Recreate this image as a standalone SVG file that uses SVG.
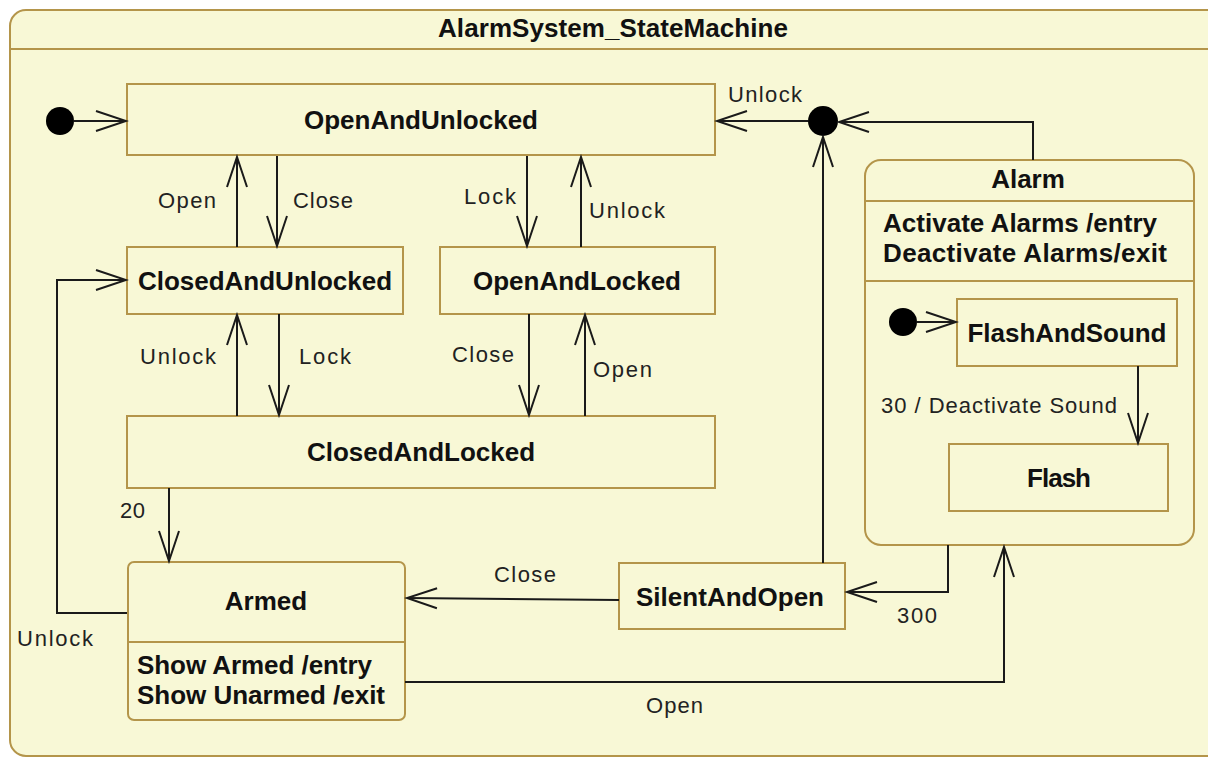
<svg xmlns="http://www.w3.org/2000/svg" width="1208" height="757" viewBox="0 0 1208 757">
<defs>
<style>
.box{fill:#F8F8D6;stroke:#B4954A;stroke-width:2}
.sep{stroke:#B4954A;stroke-width:2;fill:none}
.con{stroke:#1A1A1A;stroke-width:2;fill:none}
.dot{fill:#000}
.t{font-family:"Liberation Sans",Arial,sans-serif;font-weight:bold;font-size:26px;fill:#111}
.tc{text-anchor:middle}
.lb{font-family:"Liberation Sans",Arial,sans-serif;font-size:22px;fill:#222}
</style>
<marker id="arr" markerUnits="userSpaceOnUse" viewBox="-33 -13 36 26" refX="0" refY="0" markerWidth="36" markerHeight="26" orient="auto">
<path d="M-30,-10 L0,0 L-30,10" fill="none" stroke="#1A1A1A" stroke-width="2"/>
</marker>
</defs>
<rect x="0" y="0" width="1208" height="757" fill="#FFFFFF"/>
<g id="frame">
<rect class="box" x="10" y="10" width="1230" height="746" rx="16"/>
<line class="sep" x1="10" y1="49" x2="1208" y2="49"/>
<text class="t tc" x="613" y="37" textLength="350">AlarmSystem_StateMachine</text>
</g>
<g id="initial">
<circle class="dot" cx="60" cy="121" r="14"/>
</g>
<g id="junction">
<circle class="dot" cx="823" cy="121" r="15"/>
</g>
<g id="OpenAndUnlocked">
<rect class="box" x="127" y="84" width="588" height="71"/>
<text class="t tc" x="421" y="129">OpenAndUnlocked</text>
</g>
<g id="ClosedAndUnlocked">
<rect class="box" x="127" y="247" width="276" height="67"/>
<text class="t tc" x="265" y="290">ClosedAndUnlocked</text>
</g>
<g id="OpenAndLocked">
<rect class="box" x="440" y="247" width="275" height="67"/>
<text class="t tc" x="577" y="290">OpenAndLocked</text>
</g>
<g id="ClosedAndLocked">
<rect class="box" x="127" y="416" width="588" height="72"/>
<text class="t tc" x="421" y="461">ClosedAndLocked</text>
</g>
<g id="Armed">
<rect class="box" x="128" y="562" width="277" height="158" rx="6"/>
<line class="sep" x1="128" y1="642" x2="405" y2="642"/>
<text class="t tc" x="266" y="610">Armed</text>
<text class="t" x="137" y="674" textLength="235">Show Armed /entry</text>
<text class="t" x="137" y="704" textLength="248">Show Unarmed /exit</text>
</g>
<g id="SilentAndOpen">
<rect class="box" x="619" y="563" width="226" height="66"/>
<text class="t tc" x="730" y="606" textLength="188">SilentAndOpen</text>
</g>
<g id="Alarm">
<rect class="box" x="865" y="160" width="329" height="385" rx="16"/>
<line class="sep" x1="865" y1="201" x2="1194" y2="201"/>
<line class="sep" x1="865" y1="281" x2="1194" y2="281"/>
<text class="t tc" x="1028" y="188">Alarm</text>
<text class="t" x="883" y="232" textLength="274">Activate Alarms /entry</text>
<text class="t" x="883" y="262" textLength="284">Deactivate Alarms/exit</text>
</g>
<g id="alarmInitial">
<circle class="dot" cx="903" cy="322" r="14"/>
</g>
<g id="FlashAndSound">
<rect class="box" x="957" y="299" width="220" height="67"/>
<text class="t tc" x="1067" y="342" textLength="199">FlashAndSound</text>
</g>
<g id="Flash">
<rect class="box" x="949" y="444" width="219" height="67"/>
<text class="t tc" x="1059" y="487" textLength="64">Flash</text>
</g>
<g id="connectors">
<path class="con" d="M74,121 H126" marker-end="url(#arr)"/>
<path class="con" d="M237,247 V157" marker-end="url(#arr)"/>
<path class="con" d="M277,156 V246" marker-end="url(#arr)"/>
<path class="con" d="M527,156 V246" marker-end="url(#arr)"/>
<path class="con" d="M581,247 V157" marker-end="url(#arr)"/>
<path class="con" d="M237,416 V315" marker-end="url(#arr)"/>
<path class="con" d="M279,314 V415" marker-end="url(#arr)"/>
<path class="con" d="M529,314 V415" marker-end="url(#arr)"/>
<path class="con" d="M585,416 V315" marker-end="url(#arr)"/>
<path class="con" d="M169,488 V561" marker-end="url(#arr)"/>
<path class="con" d="M127,613 H57 V280 H126" marker-end="url(#arr)"/>
<path class="con" d="M619,600 L407,598" marker-end="url(#arr)"/>
<path class="con" d="M405,682 H1004 V547" marker-end="url(#arr)"/>
<path class="con" d="M948,545 V592 H847" marker-end="url(#arr)"/>
<path class="con" d="M1033,160 V122 H839" marker-end="url(#arr)"/>
<path class="con" d="M808,121 H717" marker-end="url(#arr)"/>
<path class="con" d="M823,563 V137" marker-end="url(#arr)"/>
<path class="con" d="M917,322 H956" marker-end="url(#arr)"/>
<path class="con" d="M1138,366 V443" marker-end="url(#arr)"/>
<text class="lb" x="158" y="208" textLength="58">Open</text>
<text class="lb" x="293" y="208" textLength="60">Close</text>
<text class="lb" x="464" y="204" textLength="52">Lock</text>
<text class="lb" x="589" y="218" textLength="76">Unlock</text>
<text class="lb" x="140" y="364" textLength="76">Unlock</text>
<text class="lb" x="299" y="364" textLength="52">Lock</text>
<text class="lb" x="452" y="362" textLength="62">Close</text>
<text class="lb" x="593" y="377" textLength="59">Open</text>
<text class="lb" x="120" y="518" textLength="25">20</text>
<text class="lb" x="17" y="646" textLength="76">Unlock</text>
<text class="lb" x="494" y="582" textLength="62">Close</text>
<text class="lb" x="897" y="623" textLength="40">300</text>
<text class="lb" x="646" y="713" textLength="57">Open</text>
<text class="lb" x="881" y="413" textLength="236">30 / Deactivate Sound</text>
<text class="lb" x="728" y="102" textLength="74">Unlock</text>
</g>
</svg>
